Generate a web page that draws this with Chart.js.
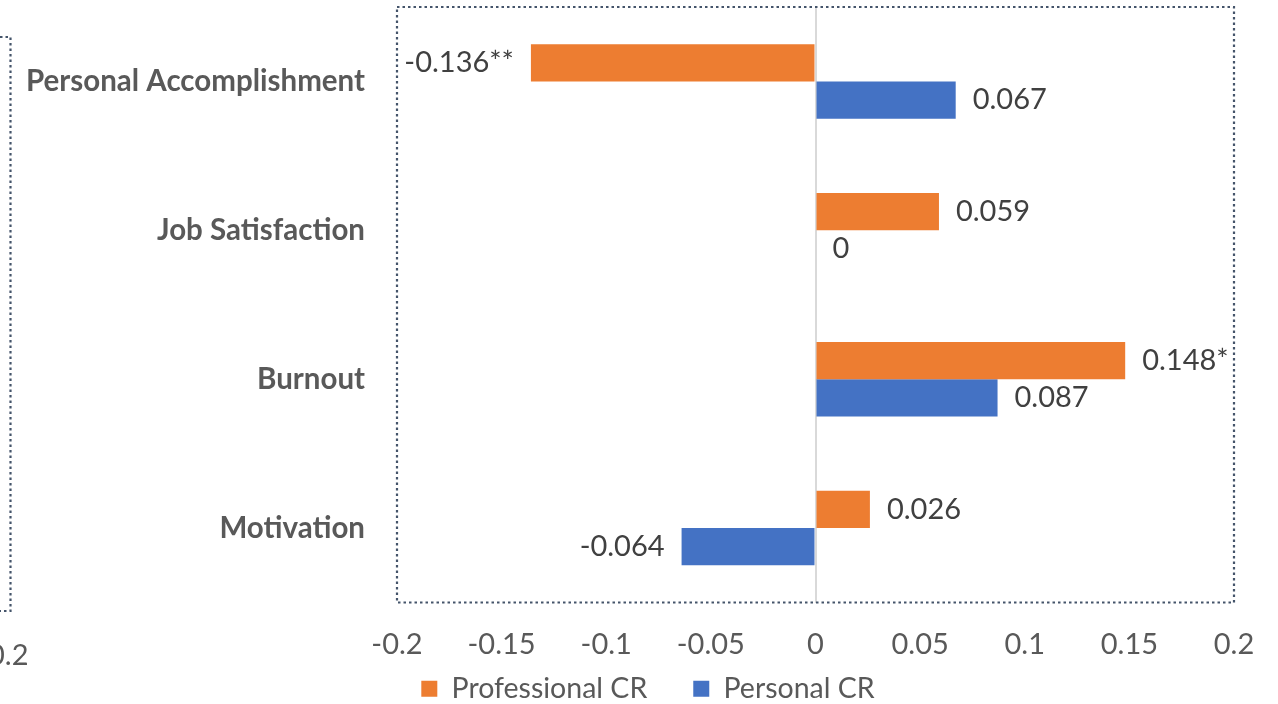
<!DOCTYPE html>
<html>
<head>
<meta charset="utf-8">
<script src="https://cdn.jsdelivr.net/npm/chart.js@4.4.1/dist/chart.umd.min.js"></script>
<style>
  html, body { margin: 0; padding: 0; background: #fff; overflow: hidden; }
  #wrap { position: relative; width: 1278px; height: 704px; overflow: hidden; }
  #c { position: absolute; left: 0; top: 0; }
  #bracket { position: absolute; left: 0; top: 0; }
  #stub { position: absolute; left: -12px; top: 637px; font: 29px Lato, sans-serif; color: #595959; line-height: 34px; }
</style>
</head>
<body>
<div id="wrap">
  <canvas id="c" width="1278" height="704"></canvas>
  <svg id="bracket" width="30" height="704" xmlns="http://www.w3.org/2000/svg">
    <polyline points="0,37 10.5,37 10.5,611 0,611" fill="none" stroke="#44546A" stroke-width="2.2" stroke-dasharray="2.5 3"/>
  </svg>
  <div id="stub">0.2</div>
</div>
<script>
const categories = ['Personal Accomplishment', 'Job Satisfaction', 'Burnout', 'Motivation'];
const seriesNames = ['Professional CR', 'Personal CR'];
const professionalCR = [-0.136, 0.059, 0.148, 0.026];
const personalCR = [0.067, 0, 0.087, -0.064];
const professionalLabels = ['-0.136**', '0.059', '0.148*', '0.026'];
const personalLabels = ['0.067', '0', '0.087', '-0.064'];
const xTickValues = [-0.2, -0.15, -0.1, -0.05, 0, 0.05, 0.1, 0.15, 0.2];

const FONT = 'Lato, sans-serif';

const valueLabels = {
  id: 'valueLabels',
  afterDatasetsDraw(chart) {
    const ctx = chart.ctx;
    ctx.save();
    ctx.font = '29px ' + FONT;
    ctx.fillStyle = '#404040';
    ctx.textBaseline = 'middle';
    chart.data.datasets.forEach((ds, di) => {
      const meta = chart.getDatasetMeta(di);
      meta.data.forEach((el, i) => {
        const v = ds.data[i];
        const txt = ds.valueLabels[i];
        if (v < 0) {
          ctx.textAlign = 'right';
          ctx.fillText(txt, el.x - 17, el.y);
        } else {
          ctx.textAlign = 'left';
          ctx.fillText(txt, el.x + 17, el.y);
        }
      });
    });
    ctx.restore();
  }
};

const plotBorder = {
  id: 'plotBorder',
  afterDraw(chart) {
    const a = chart.chartArea;
    const ctx = chart.ctx;
    ctx.save();
    ctx.strokeStyle = '#44546A';
    ctx.lineWidth = 2.2;
    ctx.setLineDash([2.5, 3]);
    ctx.strokeRect(a.left, a.top, a.right - a.left, a.bottom - a.top);
    ctx.restore();
  }
};

new Chart(document.getElementById('c'), {
  type: 'bar',
  data: {
    labels: categories,
    datasets: [
      { label: seriesNames[0], data: professionalCR, valueLabels: professionalLabels,
        backgroundColor: '#ED7D31', borderWidth: 0 },
      { label: seriesNames[1], data: personalCR, valueLabels: personalLabels,
        backgroundColor: '#4472C4', borderWidth: 0 }
    ]
  },
  options: {
    indexAxis: 'y',
    responsive: false,
    animation: false,
    categoryPercentage: 0.5,
    barPercentage: 1,
    layout: { padding: { left: 18, right: 0, top: 7, bottom: -9 } },
    plugins: {
      tooltip: { enabled: false },
      legend: {
        position: 'bottom',
        labels: {
          boxWidth: 16, boxHeight: 16, padding: 46,
          color: '#595959', font: { family: FONT, size: 28.5 }
        }
      }
    },
    scales: {
      x: {
        min: -0.2, max: 0.2,
        afterBuildTicks(scale) { scale.ticks = xTickValues.map(v => ({ value: v })); },
        afterFit(scale) {
          scale.height = 26;
          scale.paddingLeft = 0;
          scale.paddingRight = 0;
        },
        border: { display: false },
        grid: {
          drawTicks: false,
          color: ctx => (ctx.tick && ctx.tick.value === 0) ? '#D9D9D9' : 'rgba(0,0,0,0)',
          lineWidth: 2
        },
        ticks: {
          mirror: true,
          padding: -60,
          color: '#595959',
          font: { family: FONT, size: 29 },
          callback: v => String(v)
        }
      },
      y: {
        afterFit(scale) {
          scale.width = 379;
          scale.paddingTop = 0;
          scale.paddingBottom = 0;
        },
        border: { display: false },
        grid: { display: false, drawTicks: false },
        ticks: {
          padding: 32,
          color: '#595959',
          font: { family: FONT, size: 29.5, weight: 'bold' }
        }
      },
      yRight: {
        type: 'category',
        position: 'right',
        afterFit(scale) { scale.width = 44; scale.paddingTop = 0; scale.paddingBottom = 0; },
        border: { display: false },
        grid: { display: false, drawTicks: false },
        ticks: { display: false }
      }
    }
  },
  plugins: [valueLabels, plotBorder]
});
</script>
</body>
</html>
